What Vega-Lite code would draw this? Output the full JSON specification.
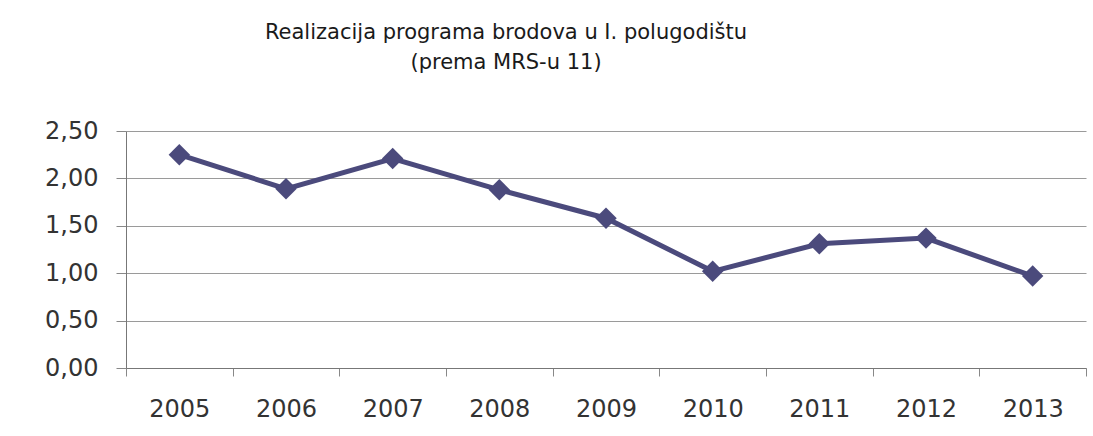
{
  "$schema": "https://vega.github.io/schema/vega-lite/v6.json",
  "autosize": {"type": "none"},
  "width": 960,
  "height": 237,
  "padding": {"left": 126, "top": 131, "right": 7, "bottom": 68},
  "background": "white",
  "title": {
    "text": ["Realizacija programa brodova u I. polugodištu", "(prema MRS-u 11)"],
    "anchor": "middle",
    "frame": "group",
    "dx": -100,
    "offset": 46,
    "font": "DejaVu Sans",
    "fontSize": 21,
    "fontWeight": "normal",
    "lineHeight": 30,
    "color": "#1a1a1a"
  },
  "data": {
    "values": [
      {"year": "2005", "value": 2.25},
      {"year": "2006", "value": 1.89},
      {"year": "2007", "value": 2.21},
      {"year": "2008", "value": 1.88},
      {"year": "2009", "value": 1.58},
      {"year": "2010", "value": 1.02},
      {"year": "2011", "value": 1.31},
      {"year": "2012", "value": 1.37},
      {"year": "2013", "value": 0.97}
    ]
  },
  "encoding": {
    "x": {
      "field": "year",
      "type": "ordinal",
      "scale": {"type": "band", "paddingInner": 0, "paddingOuter": 0},
      "axis": {
        "title": null,
        "labelAngle": 0,
        "labelFont": "DejaVu Sans",
        "labelFontSize": 24,
        "labelColor": "#333333",
        "labelPadding": 21,
        "tickBand": "extent",
        "tickSize": 8,
        "tickColor": "#888888",
        "domainColor": "#777777",
        "grid": false
      }
    },
    "y": {
      "field": "value",
      "type": "quantitative",
      "scale": {"domain": [0, 2.5], "nice": false},
      "axis": {
        "title": null,
        "values": [0, 0.5, 1, 1.5, 2, 2.5],
        "labelExpr": "replace(format(datum.value, '.2f'), '.', ',')",
        "labelFont": "DejaVu Sans",
        "labelFontSize": 24,
        "labelColor": "#333333",
        "labelPadding": 18,
        "tickSize": 10,
        "tickColor": "#888888",
        "domainColor": "#777777",
        "grid": true,
        "gridColor": "#9a9a9a",
        "gridWidth": 1
      }
    }
  },
  "layer": [
    {
      "mark": {"type": "line", "color": "#4b4a7c", "strokeWidth": 5}
    },
    {
      "mark": {"type": "point", "shape": "diamond", "filled": true, "opacity": 1, "size": 460, "color": "#4b4a7c"}
    }
  ],
  "config": {
    "view": {"stroke": null}
  }
}
